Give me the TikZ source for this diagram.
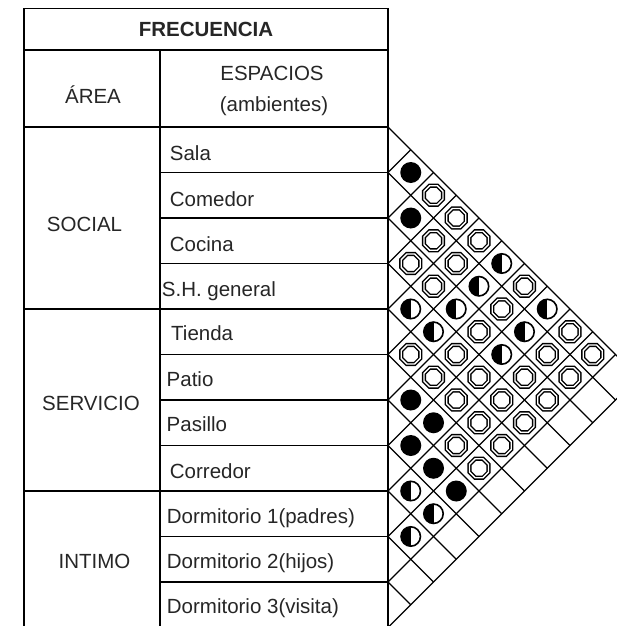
\documentclass[tikz,border=0pt]{standalone}
\usepackage{fontspec}
\setmainfont{Liberation Sans}
\usetikzlibrary{shapes.geometric}
\begin{document}
\begin{tikzpicture}[x=1pt,y=-1pt,
  grid/.style={line width=1.3pt},
  lbl/.style={font=\fontsize{20.5}{24}\selectfont, inner sep=0pt, text=black!85},
  hdr/.style={font=\fontsize{20.5}{24}\selectfont\bfseries, inner sep=0pt, text=black!85},
  blk/.style={circle, fill=black, minimum size=21pt, inner sep=0pt},
  wht/.style={regular polygon, regular polygon sides=8, draw=black, double=white,
              line width=1.4pt, double distance=1.3pt, minimum size=20.5pt, inner sep=0pt},
  hlf/.style={circle, draw=black, line width=1.6pt, minimum size=19.4pt, inner sep=0pt,
              path picture={\fill[black] (path picture bounding box.north west) rectangle (path picture bounding box.south);}}
]
\useasboundingbox (0,0) rectangle (617,626);
\clip (0,0) rectangle (617,626);

% table frame
\draw[grid] (24,8.5) rectangle (388,628.5);
\draw[grid] (24,50) -- (388,50);
\draw[grid] (24,127) -- (388,127);
\draw[grid] (160,50) -- (160,628.5);
\draw[grid] (24,309) -- (388,309);
\draw[grid] (24,491) -- (388,491);
\foreach \y in {172.5,218,263.5,354.5,400,445.5,536.5,582}
  \draw[grid] (160,\y) -- (388,\y);

% diagonal grid
\foreach \k in {0,...,11}{
  \pgfmathsetmacro{\yk}{127+45.5*\k}
  \coordinate (g\k) at (388,\yk);
  \draw[grid] (g\k) -- ++({(627.5-\yk)/2},{(627.5-\yk)/2});
  \draw[grid] (g\k) -- ++({(\yk-127)/2},{-(\yk-127)/2});
}

% headers
\node[hdr, anchor=base] (frec) at (206,37) {FRECUENCIA};
\node[lbl, anchor=base] (area) at (93,103.3) {ÁREA};
\node[lbl, anchor=base] (esp) at (272,80) {ESPACIOS};
\node[lbl, anchor=base] (amb) at (274,111) {(ambientes)};

% areas
\node[lbl, anchor=base] (social) at (84.5,231.7) {SOCIAL};
\node[lbl, anchor=base] (servicio) at (91,410) {SERVICIO};
\node[lbl, anchor=base] (intimo) at (94.5,568.3) {INTIMO};

% spaces
\node[lbl, anchor=base west] (r1) at (169.7,160.7) {Sala};
\node[lbl, anchor=base west] (r2) at (169.7,206) {Comedor};
\node[lbl, anchor=base west] (r3) at (169.7,251.7) {Cocina};
\node[lbl, anchor=base west] (r4) at (161.7,296.7) {S.H. general};
\node[lbl, anchor=base west] (r5) at (171,340) {Tienda};
\node[lbl, anchor=base west] (r6) at (166.5,386.7) {Patio};
\node[lbl, anchor=base west] (r7) at (166.5,431.7) {Pasillo};
\node[lbl, anchor=base west] (r8) at (169.7,478.3) {Corredor};
\node[lbl, anchor=base west] (r9) at (166.7,523.3) {Dormitorio 1(padres)};
\node[lbl, anchor=base west] (r10) at (166.7,568.3) {Dormitorio 2(hijos)};
\node[lbl, anchor=base west] (r11) at (166.7,613.3) {Dormitorio 3(visita)};

% symbols
\foreach \i/\j in {1/2,2/3,6/7,7/8,6/8,7/9,7/10}
  \node[blk] (s\i-\j) at ({388+(\j-\i)*22.75},{127+(\i+\j-1)*22.75}) {};
\foreach \i/\j in {4/5,8/9,9/10,4/6,8/10,3/6,2/6,1/6,3/8,2/8,1/8}
  \node[hlf] (s\i-\j) at ({388+(\j-\i)*22.75},{127+(\i+\j-1)*22.75}) {};
\foreach \i/\j in {3/4,5/6,1/3,2/4,3/5,5/7,1/4,2/5,4/7,5/8,6/9,1/5,3/7,4/8,5/9,6/10,
                   2/7,4/9,5/10,1/7,3/9,4/10,2/9,3/10,1/9,2/10,1/10}
  \node[wht] (s\i-\j) at ({388+(\j-\i)*22.75},{127+(\i+\j-1)*22.75}) {};
\end{tikzpicture}
\end{document}
